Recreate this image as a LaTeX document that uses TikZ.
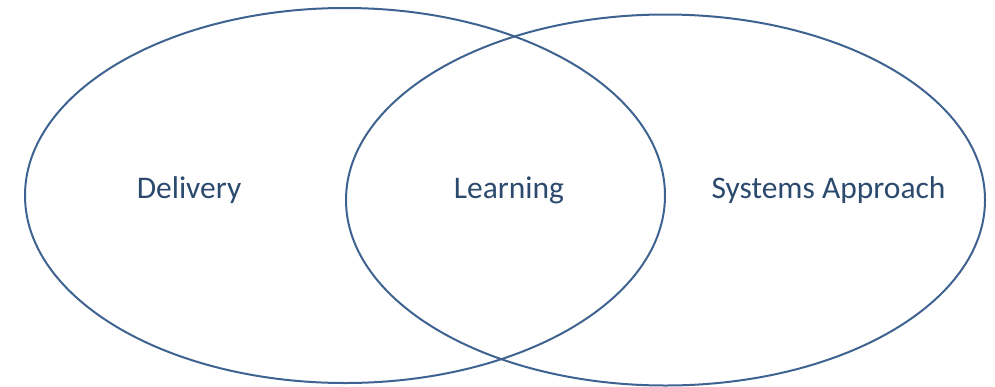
\documentclass[tikz,border=0pt]{standalone}
\usepackage{fontspec}
\setmainfont{Carlito}
\definecolor{lineblue}{HTML}{3F6390}
\definecolor{textblue}{HTML}{2C4A6E}
\begin{document}
\begin{tikzpicture}[x=1pt,y=-1pt,
  ring/.style={draw=lineblue,line width=2pt},
  lbl/.style={text=textblue,font=\fontsize{31.5}{36}\selectfont,inner sep=0pt,anchor=base}]
\useasboundingbox (0,0) rectangle (995,386);
\draw[ring] (345,195.5) ellipse [x radius=320, y radius=187.5];
\draw[ring] (665.5,200) ellipse [x radius=319.5, y radius=185.5];
\node[lbl] (delivery) at (189,198) {Delivery};
\node[lbl] (learning) at (509,198) {Learning};
\node[lbl] (systems) at (828.5,198) {Systems Approach};
\end{tikzpicture}
\end{document}
